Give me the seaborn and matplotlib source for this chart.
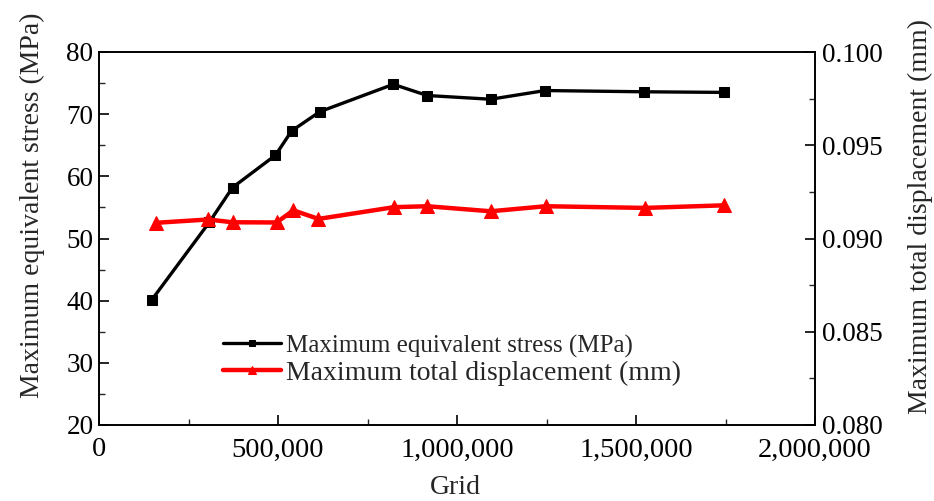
import matplotlib
matplotlib.use("Agg")
import matplotlib.pyplot as plt
import seaborn as sns
import pandas as pd
from matplotlib.ticker import FuncFormatter, MultipleLocator

grid_stress = [147000, 308000, 373000, 493000, 538000, 617000, 822000, 917000, 1094000, 1246000, 1523000, 1747000]
stress = [40.1, 52.6, 58.2, 63.4, 67.3, 70.4, 74.8, 73.0, 72.4, 73.8, 73.6, 73.5]
grid_disp = [158000, 305000, 373000, 496000, 543000, 613000, 824000, 917000, 1094000, 1248000, 1525000, 1747000]
disp = [0.09084, 0.09102, 0.09087, 0.09086, 0.09151, 0.09105, 0.09168, 0.09173, 0.09146, 0.09173, 0.09164, 0.09178]

sns.set_style("ticks")
plt.rcParams['font.family'] = ['Liberation Serif', 'DejaVu Serif']

fig = plt.figure(figsize=(9.34, 5.01), dpi=100)
ax = fig.add_axes([99/934, 1-425/501, (815-99)/934, (425-52)/501])
ax2 = ax.twinx()

df1 = pd.DataFrame({"grid": grid_stress, "stress": stress})
df2 = pd.DataFrame({"grid": grid_disp, "disp": disp})

sns.lineplot(data=df1, x="grid", y="stress", ax=ax, color="black", lw=2.4,
             marker="s", markersize=7, markeredgecolor="black",
             label="Maximum equivalent stress (MPa)", legend=False)
sns.lineplot(data=df2, x="grid", y="disp", ax=ax2, color="#ff0000", lw=3.2,
             marker="^", markersize=10, markeredgecolor="#ff0000",
             label="Maximum total displacement (mm)", legend=False)

ax.set_xlim(0, 2000000)
ax.set_ylim(20, 80)
ax2.set_ylim(0.080, 0.100)
ax.xaxis.set_major_locator(MultipleLocator(500000))
ax.xaxis.set_minor_locator(MultipleLocator(250000))
ax.yaxis.set_major_locator(MultipleLocator(10))
ax.yaxis.set_minor_locator(MultipleLocator(5))
ax2.yaxis.set_major_locator(MultipleLocator(0.005))
ax2.yaxis.set_minor_locator(MultipleLocator(0.0025))
ax.xaxis.set_major_formatter(FuncFormatter(lambda v, p: f"{int(round(v)):,}"))
ax2.yaxis.set_major_formatter(FuncFormatter(lambda v, p: f"{v:.3f}"))

for a in (ax, ax2):
    a.tick_params(which="major", direction="in", length=7, width=1.2, colors="black")
    a.tick_params(which="minor", direction="in", length=4, width=1.0)
    for s in a.spines.values():
        s.set_linewidth(1.2)
        s.set_color("black")
ax.tick_params(top=False, right=False, which="both")
ax.tick_params(axis="x", labelsize=20.5, pad=9)
ax.tick_params(axis="y", labelsize=19.5, pad=4)
ax2.tick_params(axis="y", labelsize=19.5, pad=5)

ax.set_xlabel("Grid", fontsize=20)
ax.set_ylabel("Maximum equivalent stress (MPa)", fontsize=20)
ax2.set_ylabel("Maximum total displacement (mm)", fontsize=20)
ax.xaxis.set_label_coords((455-99)/716, -(488-425)/373)
ax.yaxis.set_label_coords(-(99-32)/716, (425-205)/373)
ax2.yaxis.set_label_coords((920-99)/716, (425-216)/373)
ax.xaxis.label.set_va("center")
ax.yaxis.label.set_va("center")
ax2.yaxis.label.set_va("center")

h1, l1 = ax.get_legend_handles_labels()
h2, l2 = ax2.get_legend_handles_labels()
leg = ax.legend(h1 + h2, l1 + l2, loc="upper left", bbox_to_anchor=(223/934, 1-333/501),
                bbox_transform=fig.transFigure, frameon=False, fontsize=20, borderaxespad=0,
                handlelength=2.1, handletextpad=0.15, labelspacing=0.1, borderpad=0, markerscale=0.6)
leg.get_texts()[0].set_fontsize(18)
leg.get_texts()[1].set_fontsize(20)

fig.savefig("out.png", dpi=100)
